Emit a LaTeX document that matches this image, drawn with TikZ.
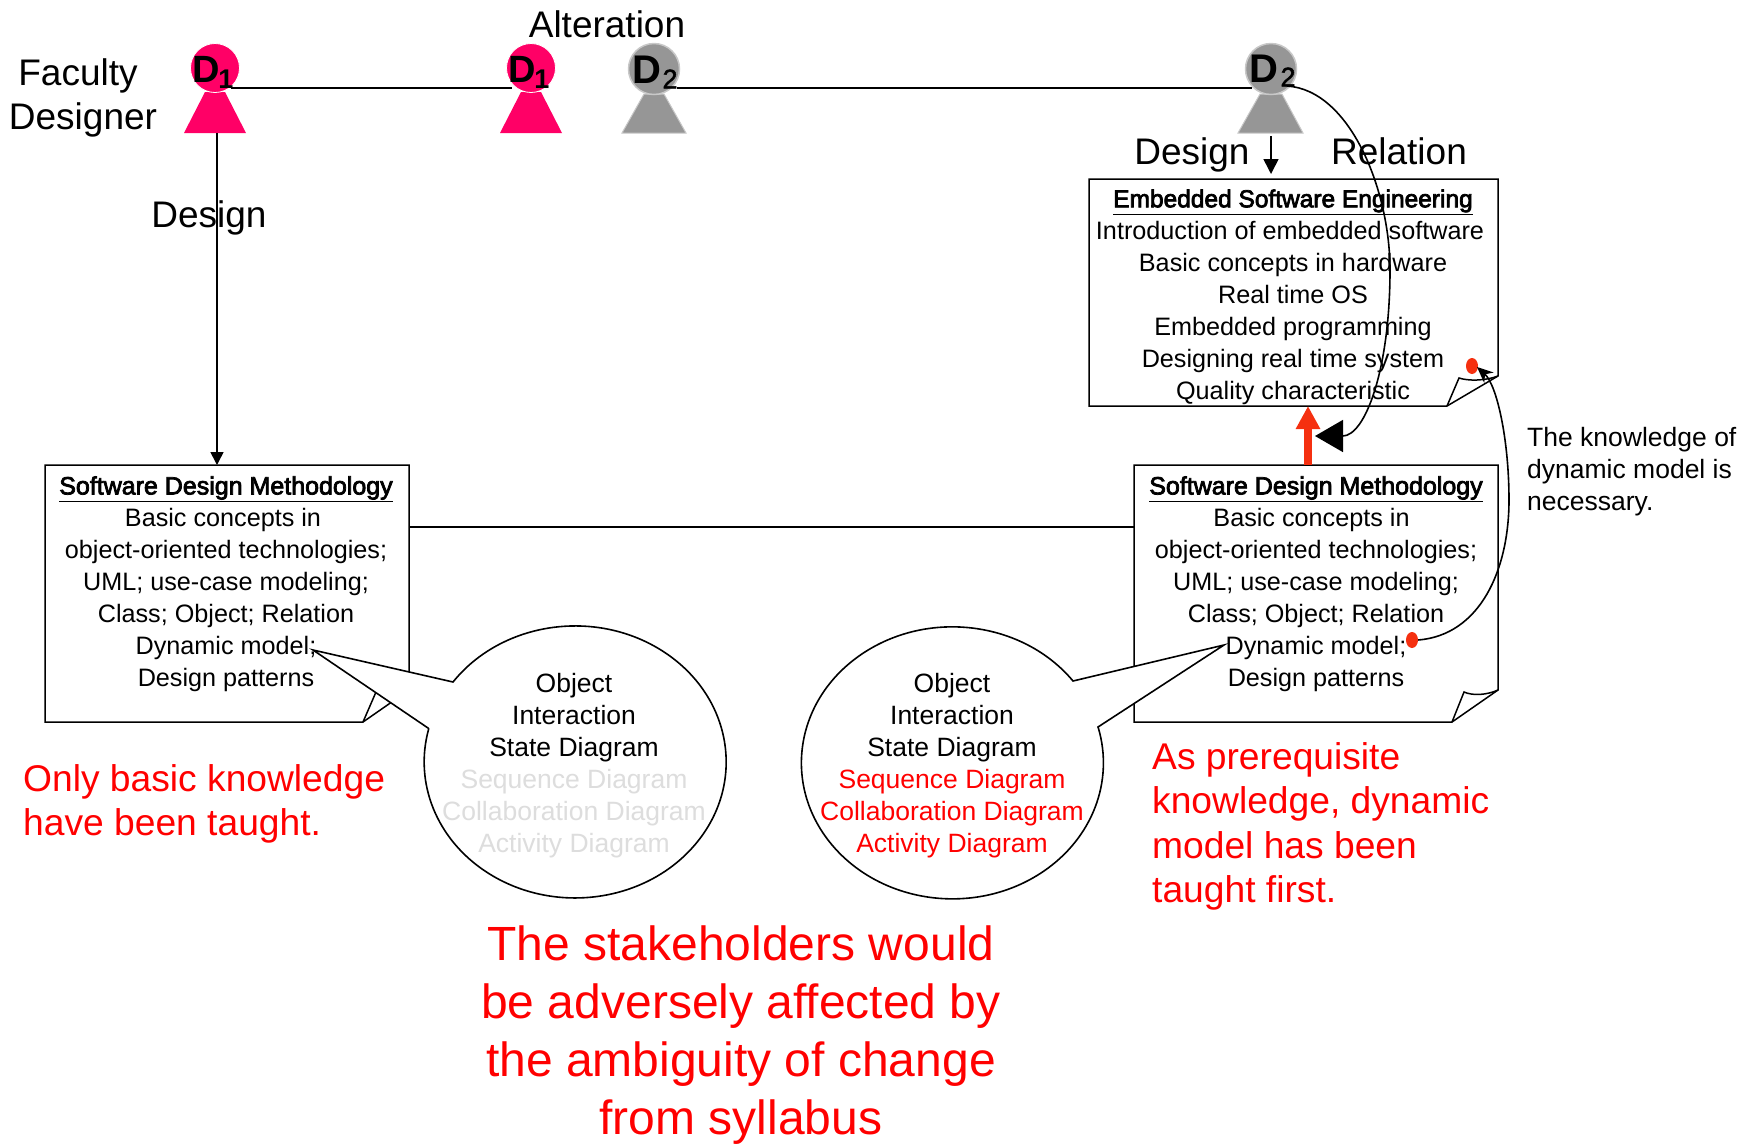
\documentclass[tikz,border=0pt]{standalone}
\usepackage{fontspec}
\setmainfont{Liberation Sans}
\newfontfamily\fakeb[FakeBold=3]{Liberation Sans}
\newfontfamily\fakec[FakeBold=1.5]{Liberation Sans}
\usetikzlibrary{arrows.meta,shapes.geometric}
\definecolor{pinkp}{HTML}{FF0066}
\definecolor{grayp}{HTML}{969696}
\definecolor{halo}{HTML}{C8C8C8}
\definecolor{redt}{HTML}{FF0000}
\definecolor{reda}{HTML}{F53010}
\definecolor{fade}{HTML}{DDDDDD}
\newcommand{\fs}[2]{\fontsize{#1}{#2}\selectfont}
\newcommand{\pad}[1]{\hspace*{#1}\mbox{}}
\tikzset{
  lbl/.style={inner sep=0pt,text height=26pt,text depth=8pt,font=\fs{37}{44}},
  boxtxt/.style={inner sep=0pt,align=center,font=\fs{25.2}{32}},
  bubtxt/.style={inner sep=0pt,align=center,font=\fs{26.5}{32}},
  redtxt/.style={inner sep=0pt,align=left,anchor=west,text=redt,font=\fs{37.2}{44.5}},
  head/.style={ellipse,inner sep=0pt,minimum width=#1,minimum height=#1},
  pinkhead/.style={head=49pt,fill=pinkp,draw=white,line width=.8pt},
  grayhead/.style={head=51pt,fill=grayp,draw=halo,line width=1.5pt},
  dlbl/.style={inner sep=0pt,font=\bfseries\fs{38}{38}},
  dgray/.style={inner sep=0pt,font=\bfseries\fs{40}{40}},
  dsub/.style={inner sep=0pt,font=\bfseries\fs{27}{27}},
  dsubg/.style={inner sep=0pt,font=\fakec\fs{27}{27}},
  line/.style={draw=black,line width=1.6pt},
  boxline/.style={draw=black,line width=1.5pt},
  note/.style={boxline,fill=white,line join=miter},
  bubble/.style={draw=black,line width=1.6pt,fill=white},
  reddot/.style={ellipse,fill=reda,inner sep=0pt,minimum width=12pt,minimum height=16pt},
}
\begin{document}
\begin{tikzpicture}[x=1pt,y=1pt]
\useasboundingbox (0,0) rectangle (1738,-1144);
% people
\fill[pinkp] (205,-92) -- (225,-92) -- (246,-133) -- (184,-133) -- cycle;
\node[pinkhead] (h1) at (215,-68) {};
\fill[pinkp] (521,-92) -- (541,-92) -- (562,-133) -- (500,-133) -- cycle;
\node[pinkhead] (h2) at (531,-68) {};
\filldraw[fill=grayp,draw=halo,line width=1pt] (644,-94) -- (664,-94) -- (686,-133) -- (622,-133) -- cycle;
\node[grayhead] (h3) at (654,-69) {};
\filldraw[fill=grayp,draw=halo,line width=1pt] (1260,-94) -- (1282,-94) -- (1303,-133) -- (1238,-133) -- cycle;
\node[grayhead] (h4) at (1271,-69) {};
\node[dlbl] (d1) at (206,-69) {D};
\node[dsub] (s1) at (226,-79) {1};
\node[dlbl] (d2) at (522,-69) {D};
\node[dsub] (s2) at (542,-79) {1};
\node[dgray] (d3) at (647,-70) {D};
\node[dsubg] (s3) at (670,-79) {2};
\node[dgray] (d4) at (1264,-69) {D};
\node[dsubg] (s4) at (1288,-77) {2};
% connector end points
\coordinate (p1r) at (231,-88);
\coordinate (p2l) at (512,-88);
\coordinate (p3r) at (677,-88);
\coordinate (p4l) at (1252,-88);
\coordinate (p1b) at (217,-133);
\coordinate (boxLt) at (217,-465);
\coordinate (p4b) at (1271,-136);
\coordinate (embt) at (1271,-174);
\coordinate (boxLr) at (409,-527);
\coordinate (boxRl) at (1134,-527);
\coordinate (boxRt) at (1308,-465);
\coordinate (embb) at (1308,-406);
\coordinate (p4c) at (1287,-86);
\coordinate (bigtip) at (1315,-436);
\coordinate (smalltip) at (1477,-367);
% boxes
\path[note] (45,-465) -- (409,-465) -- (409,-690) -- (363,-722) -- (45,-722) -- cycle;
\path[boxline] (363,-722) -- (376,-692) .. controls (385,-695) and (398,-695) .. (409,-690);
\path[note] (1134,-465) -- (1498,-465) -- (1498,-690) -- (1452,-722) -- (1134,-722) -- cycle;
\path[boxline] (1452,-722) -- (1464,-692) .. controls (1473,-696) and (1487,-695) .. (1498,-690);
\path[note] (1089,-179) -- (1498,-179) -- (1498,-376) -- (1447,-406) -- (1089,-406) -- cycle;
\path[boxline] (1447,-406) -- (1459,-378) .. controls (1468,-381) and (1485,-381) .. (1498,-376);
% callouts
\path[bubble] (453,-682) arc[start angle=144,end angle=-194,x radius=151,y radius=136] -- (428,-728) -- (313,-650) -- cycle;
\path[bubble] (1073,-681) arc[start angle=37,end angle=375,x radius=151,y radius=136] -- (1098,-727) -- (1224,-645) -- cycle;
% box texts
\node[boxtxt] (tL) at (226,-584) {{\fakeb\fs{25}{32}\underline{Software Design Methodology}}\\Basic concepts in\pad{6pt}\\object-oriented technologies;\\UML; use-case modeling;\\Class; Object; Relation\\Dynamic model;\\Design patterns};
\node[boxtxt] (tR) at (1316,-584) {{\fakeb\fs{25}{32}\underline{Software Design Methodology}}\\Basic concepts in\pad{9pt}\\object-oriented technologies;\\UML; use-case modeling;\\Class; Object; Relation\\Dynamic model;\\Design patterns};
\node[boxtxt] (tE) at (1293,-297) {{\fakeb\fs{24.5}{32}\underline{Embedded Software Engineering}}\\Introduction of embedded software\pad{6pt}\\Basic concepts in hardware\\Real time OS\\Embedded programming\\Designing real time system\\Quality characteristic};
\node[bubtxt] (cL) at (574,-766) {Object\\Interaction\\State Diagram\\\textcolor{fade}{Sequence Diagram}\\\textcolor{fade}{Collaboration Diagram}\\\textcolor{fade}{Activity Diagram}};
\node[bubtxt] (cR) at (952,-766) {Object\\Interaction\\State Diagram\\\textcolor{redt}{Sequence Diagram}\\\textcolor{redt}{Collaboration Diagram}\\\textcolor{redt}{Activity Diagram}};
% labels
\node[lbl] (fac) at (78,-76) {Faculty};
\node[lbl] (des) at (83,-120) {Designer};
\node[lbl] (alt) at (607,-28) {Alteration};
\node[lbl] (dL) at (209,-218) {Design};
\node[lbl] (dR) at (1192,-155) {Design};
\node[lbl] (rel) at (1399,-155) {Relation};
\node[redtxt] (rL) at (23,-804) {Only basic knowledge\\have been taught.};
\node[redtxt] (rR) at (1152,-826.5) {As prerequisite\\knowledge, dynamic\\model has been\\taught first.};
\node[inner sep=0pt,align=center,text=redt,font=\fs{48}{57.8}] (big) at (741,-1035) {The stakeholders would\\be adversely affected by\\the ambiguity of change\\from syllabus};
\node[inner sep=0pt,align=left,anchor=west,font=\fs{26.5}{32}] (nt) at (1527,-472) {The knowledge of\\dynamic model is\\necessary.};
% connectors
\draw[line] (p1r) -- (p2l);
\draw[line] (p3r) -- (p4l);
\draw[line] (boxLr) -- (boxRl);
\draw[line,-{Triangle[length=13pt,width=13pt]}] (p1b) -- (boxLt);
\draw[line,-{Triangle[length=15pt,width=15pt]}] (p4b) -- (embt);
\draw[reda,line width=8pt,-{Triangle[length=23pt,width=23pt]}] (boxRt) -- (embb);
\node[reddot] (dotR) at (1412,-640) {};
\node[reddot] (dotE) at (1472,-366) {};
\draw[line,-{Triangle[length=28pt,width=32pt]}] (p4c) .. controls (1350,-90) and (1390,-190) .. (1390,-270) .. controls (1390,-370) and (1365,-436) .. (bigtip);
\draw[line,-{Stealth[length=16pt,width=14pt]}] (dotR.east) .. controls (1480,-635) and (1509,-570) .. (1509,-500) .. controls (1509,-440) and (1497,-385) .. (smalltip);
\end{tikzpicture}
\end{document}
